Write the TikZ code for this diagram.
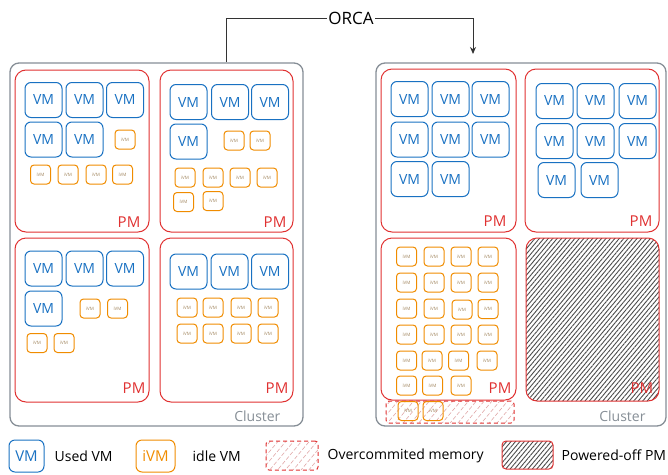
\documentclass[tikz,border=0pt]{standalone}
\usepackage{fontspec}
\setmainfont{Open Sans}
\usetikzlibrary{positioning, arrows.meta, patterns.meta}

\definecolor{vmblue}{HTML}{1971C2}
\definecolor{ivmorange}{HTML}{F08C00}
\definecolor{ivmtext}{HTML}{A0845C}
\definecolor{pmred}{HTML}{E03131}
\definecolor{clgray}{HTML}{868E96}
\definecolor{ocpink}{HTML}{E0A8A8}

\tikzset{
  cluster/.style={draw=clgray, line width=1.3pt, rounded corners=9pt, inner sep=0pt},
  pm/.style={draw=pmred, line width=1pt, rounded corners=11pt, inner sep=0pt},
  vm/.style={draw=vmblue, line width=1pt, rounded corners=6pt, minimum width=37pt,
    minimum height=35pt, inner sep=0pt, text=vmblue, font=\fontsize{14}{14}\selectfont},
  ivm/.style={draw=ivmorange, line width=1pt, rounded corners=3.5pt, minimum width=20pt,
    minimum height=19pt, inner sep=0pt, text=ivmtext, font=\fontsize{4.5}{5}\selectfont},
  pmtext/.style={text=pmred, font=\fontsize{15}{15}\selectfont, inner sep=0pt, anchor=base east},
  cltext/.style={text=clgray, font=\fontsize{14}{14}\selectfont, inner sep=0pt, anchor=base east},
  legtext/.style={font=\fontsize{14}{14}\selectfont, anchor=west, inner sep=0pt},
  offhatch/.style={pattern={Lines[angle=50, distance=3.4pt, line width=0.9pt]}, pattern color=black!70},
  ochatch/.style={pattern={Lines[angle=50, distance=6pt, line width=0.6pt]}, pattern color=ocpink},
}

\begin{document}
\begin{tikzpicture}[x=1pt, y=-1pt]
    \useasboundingbox (0,0) rectangle (668,474);

    % clusters
    \node[cluster, minimum width=293pt, minimum height=363pt] (lcl) at (156.5,244.5) {};
    \node[cluster, minimum width=290pt, minimum height=363pt] (rcl) at (521,244.5) {};
    \node[cltext] at ([shift={(-23,-5)}]lcl.south east) {Cluster};
    \node[cltext] at ([shift={(-21,-5)}]rcl.south east) {Cluster};

    % ORCA
    \node[font=\fontsize{17}{17}\selectfont, inner sep=1.5pt] (orca) at (351,18) {ORCA};
    \coordinate (lsrc) at (226,62);
    \coordinate (rdst) at (473,54);
    \draw[black!80, line width=1pt] (lsrc) |- (orca.west);
    \draw[black!80, line width=1pt, -{Stealth[length=7pt, width=6pt]}] (orca.east) -| (rdst);

    % left cluster, PM 1
    \node[pm, minimum width=134pt, minimum height=162pt] (lp1) at (82,151) {};
    \node[vm] (lp1a) at (43.5,100) {VM};
    \node[vm] (lp1b) at (84.5,100) {VM};
    \node[vm] (lp1c) at (125,100) {VM};
    \node[vm] (lp1d) at (43.5,139.5) {VM};
    \node[vm] (lp1e) at (84.5,139.5) {VM};
    \node[ivm] (lp1i1) at (125,139.5) {iVM};
    \node[ivm] (lp1i2) at (40.5,174.5) {iVM};
    \node[ivm] (lp1i3) at (68,174.5) {iVM};
    \node[ivm] (lp1i4) at (96,174.5) {iVM};
    \node[ivm] (lp1i5) at (122.5,174.5) {iVM};
    \node[pmtext] at ([shift={(-9,-5)}]lp1.south east) {PM};

    % left cluster, PM 2
    \node[pm, minimum width=133pt, minimum height=162pt] (lp2) at (226.5,151) {};
    \node[vm] (lp2a) at (188.5,102) {VM};
    \node[vm] (lp2b) at (230,102) {VM};
    \node[vm] (lp2c) at (270,102) {VM};
    \node[vm] (lp2d) at (188.5,141.5) {VM};
    \node[ivm] (lp2i1) at (234,140.5) {iVM};
    \node[ivm] (lp2i2) at (260,140.5) {iVM};
    \node[ivm] (lp2i3) at (185,177.5) {iVM};
    \node[ivm] (lp2i4) at (213,177.5) {iVM};
    \node[ivm] (lp2i5) at (240,177.5) {iVM};
    \node[ivm] (lp2i6) at (267,177.5) {iVM};
    \node[ivm] (lp2i7) at (183.5,202) {iVM};
    \node[ivm] (lp2i8) at (213,201) {iVM};
    \node[pmtext] at ([shift={(-7,-5)}]lp2.south east) {PM};

    % left cluster, PM 3
    \node[pm, minimum width=134pt, minimum height=164pt] (lp3) at (82,320) {};
    \node[vm] (lp3a) at (43.5,268.5) {VM};
    \node[vm] (lp3b) at (84.5,268.5) {VM};
    \node[vm] (lp3c) at (125,268.5) {VM};
    \node[vm] (lp3d) at (43.5,308.5) {VM};
    \node[ivm] (lp3i1) at (90,308.5) {iVM};
    \node[ivm] (lp3i2) at (117.5,308.5) {iVM};
    \node[ivm] (lp3i3) at (37,343) {iVM};
    \node[ivm] (lp3i4) at (64,343) {iVM};
    \node[pmtext] at ([shift={(-4,-9)}]lp3.south east) {PM};

    % left cluster, PM 4
    \node[pm, minimum width=133pt, minimum height=164pt] (lp4) at (226.5,320) {};
    \node[vm] (lp4a) at (188.5,271.5) {VM};
    \node[vm] (lp4b) at (229.5,271.5) {VM};
    \node[vm] (lp4c) at (270,271.5) {VM};
    \node[ivm] (lp4i1) at (187,307.5) {iVM};
    \node[ivm] (lp4i2) at (213,307.5) {iVM};
    \node[ivm] (lp4i3) at (241,307.5) {iVM};
    \node[ivm] (lp4i4) at (268,307.5) {iVM};
    \node[ivm] (lp4i5) at (187,333.5) {iVM};
    \node[ivm] (lp4i6) at (213,333.5) {iVM};
    \node[ivm] (lp4i7) at (241,333.5) {iVM};
    \node[ivm] (lp4i8) at (268,333.5) {iVM};
    \node[pmtext] at ([shift={(-5,-9)}]lp4.south east) {PM};

    % right cluster, PM 1
    \node[pm, minimum width=135pt, minimum height=163pt] (rp1) at (448.5,150.5) {};
    \node[vm] (rp1a) at (409.5,99) {VM};
    \node[vm] (rp1b) at (450.5,99) {VM};
    \node[vm] (rp1c) at (490.5,99) {VM};
    \node[vm] (rp1d) at (409.5,139.5) {VM};
    \node[vm] (rp1e) at (450.5,139.5) {VM};
    \node[vm] (rp1f) at (490.5,139.5) {VM};
    \node[vm] (rp1g) at (409.5,179) {VM};
    \node[vm] (rp1h) at (450.5,179) {VM};
    \node[pmtext] at ([shift={(-10,-6)}]rp1.south east) {PM};

    % right cluster, PM 2
    \node[pm, minimum width=134pt, minimum height=163pt] (rp2) at (592,150.5) {};
    \node[vm] (rp2a) at (554.5,101) {VM};
    \node[vm] (rp2b) at (595.5,101) {VM};
    \node[vm] (rp2c) at (637.5,101) {VM};
    \node[vm] (rp2d) at (554.5,141) {VM};
    \node[vm] (rp2e) at (595.5,141) {VM};
    \node[vm] (rp2f) at (637.5,141) {VM};
    \node[vm] (rp2g) at (556.5,180) {VM};
    \node[vm] (rp2h) at (599.5,180) {VM};
    \node[pmtext] at ([shift={(-7,-6)}]rp2.south east) {PM};

    % right cluster, PM 3 (all idle)
    \node[pm, minimum width=135pt, minimum height=162pt] (rp3) at (448.5,319) {};
    \node[ivm] (rp3i1) at (406.5,256.5) {iVM};
    \node[ivm] (rp3i2) at (434,256.5) {iVM};
    \node[ivm] (rp3i3) at (461,256.5) {iVM};
    \node[ivm] (rp3i4) at (488,256.5) {iVM};
    \node[ivm] (rp3i5) at (406.5,282.5) {iVM};
    \node[ivm] (rp3i6) at (434,282.5) {iVM};
    \node[ivm] (rp3i7) at (461,282.5) {iVM};
    \node[ivm] (rp3i8) at (488,282.5) {iVM};
    \node[ivm] (rp3i9) at (406.5,308.5) {iVM};
    \node[ivm] (rp3i10) at (434,308.5) {iVM};
    \node[ivm] (rp3i11) at (462,309.5) {iVM};
    \node[ivm] (rp3i12) at (488,309) {iVM};
    \node[ivm] (rp3i13) at (406.5,334.5) {iVM};
    \node[ivm] (rp3i14) at (434,334.5) {iVM};
    \node[ivm] (rp3i15) at (461,334.5) {iVM};
    \node[ivm] (rp3i16) at (488,334.5) {iVM};
    \node[ivm] (rp3i17) at (406.5,360.5) {iVM};
    \node[ivm] (rp3i18) at (432,360.5) {iVM};
    \node[ivm] (rp3i19) at (458.5,360.5) {iVM};
    \node[ivm] (rp3i20) at (487,360.5) {iVM};
    \node[ivm] (rp3i21) at (406.5,385.5) {iVM};
    \node[ivm] (rp3i22) at (432.5,385.5) {iVM};
    \node[ivm] (rp3i23) at (461,385.5) {iVM};
    \node[pmtext] at ([shift={(-5,-7)}]rp3.south east) {PM};

    % overcommited memory
    \node[draw=pmred, ochatch, line width=1pt, dash pattern=on 4pt off 3pt, rounded corners=3pt,
      minimum width=128pt, minimum height=22pt] (oc) at (450,412) {};
    \node[ivm] (oci1) at (408,411) {iVM};
    \node[ivm] (oci2) at (433,411) {iVM};

    % right cluster, PM 4 (powered off)
    \node[pm, offhatch, minimum width=133pt, minimum height=163pt] (rp4) at (592.5,319.5) {};
    \node[pmtext] at ([shift={(-6,-8)}]rp4.south east) {PM};

    % legend
    \node[draw=vmblue, line width=1pt, rounded corners=6pt, minimum width=35pt, minimum height=32pt,
      inner sep=0pt, text=vmblue, font=\fontsize{15}{15}\selectfont] (lgvm) at (26.5,456) {VM};
    \node[legtext, right=10pt of lgvm] (lgvmt) {Used VM};
    \node[draw=ivmorange, line width=1pt, rounded corners=6pt, minimum width=39pt, minimum height=32pt,
      inner sep=0pt, text=ivmorange, font=\fontsize{15}{15}\selectfont] (lgivm) at (155.5,456) {iVM};
    \node[legtext, right=17pt of lgivm] (lgivmt) {idle VM};
    \node[draw=pmred, ochatch, line width=1pt, dash pattern=on 4pt off 3pt, rounded corners=3pt,
      minimum width=52pt, minimum height=29pt] (lgoc) at (292,455.5) {};
    \node[legtext, right=9pt of lgoc] (lgoct) {Overcommited memory};
    \node[draw=pmred, offhatch, line width=1pt, rounded corners=4pt,
      minimum width=51pt, minimum height=28pt] (lgoff) at (527.5,455) {};
    \node[legtext, right=8pt of lgoff] (lgofft) {Powered-off PM};
\end{tikzpicture}
\end{document}
